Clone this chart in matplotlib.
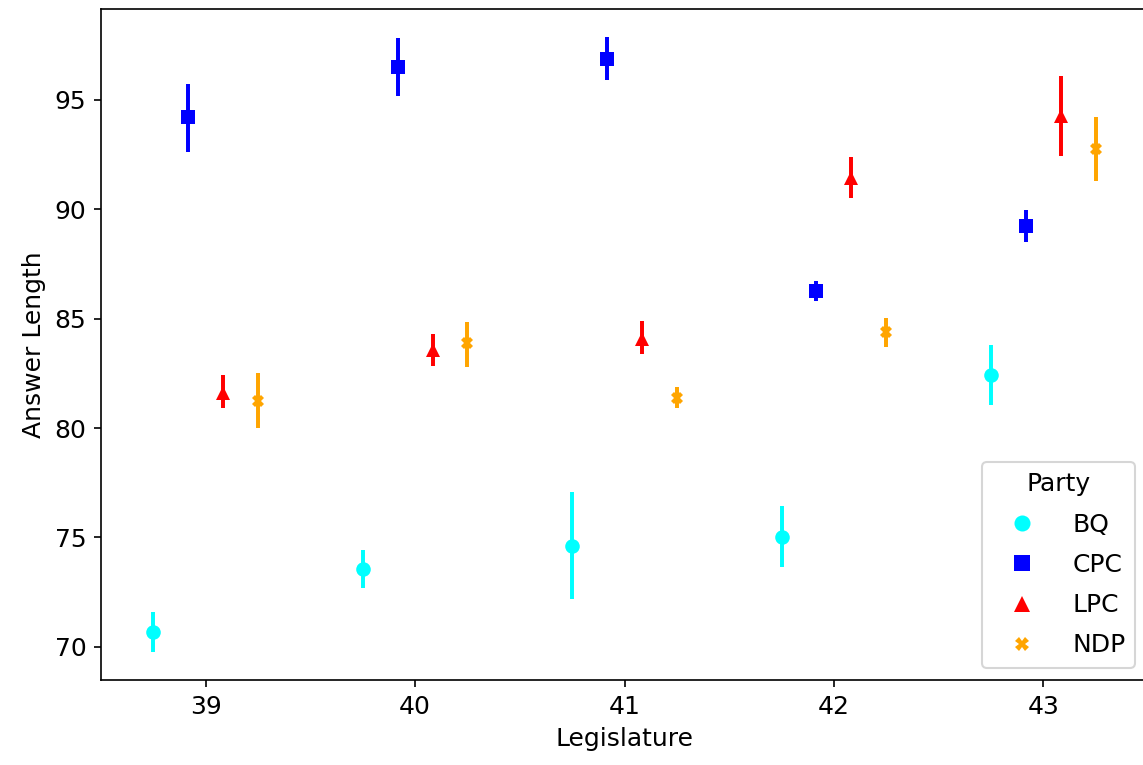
"""Answer length by legislature and party (point estimates with intervals)."""

import matplotlib

matplotlib.use("Agg")

import matplotlib.pyplot as plt
import numpy as np

plt.rcParams["font.size"] = 12

legislatures = ["39", "40", "41", "42", "43"]
parties = ["BQ", "CPC", "LPC", "NDP"]
colors = ["cyan", "blue", "red", "orange"]
markers = ["o", "s", "^", "X"]

# mean answer length, then lower / upper interval bounds
bq_mean = [70.66, 73.57, 74.60, 75.03, 82.44]
bq_lo = [69.77, 72.70, 72.19, 73.63, 81.05]
bq_hi = [71.57, 74.42, 77.09, 76.45, 83.80]

cpc_mean = [94.21, 96.49, 96.87, 86.28, 89.25]
cpc_lo = [92.63, 95.18, 95.91, 85.79, 88.49]
cpc_hi = [95.73, 97.82, 97.87, 86.71, 89.97]

lpc_mean = [81.62, 83.57, 84.08, 91.43, 94.29]
lpc_lo = [80.90, 82.83, 83.37, 90.50, 92.44]
lpc_hi = [82.42, 84.30, 84.89, 92.39, 96.09]

ndp_mean = [81.25, 83.87, 81.39, 84.38, 92.76]
ndp_lo = [79.99, 82.80, 80.93, 83.72, 91.29]
ndp_hi = [82.53, 84.86, 81.86, 85.02, 94.21]

means = [bq_mean, cpc_mean, lpc_mean, ndp_mean]
lows = [bq_lo, cpc_lo, lpc_lo, ndp_lo]
highs = [bq_hi, cpc_hi, lpc_hi, ndp_hi]

fig = plt.figure(figsize=(1143 / 150, 765 / 150), dpi=150)
ax = fig.add_axes([101 / 1143, 1 - 680 / 765, 1047 / 1143, 671 / 765])

x = np.arange(len(legislatures))
width = 0.5
offsets = np.linspace(-width / 2, width / 2, len(parties))

for i, party in enumerate(parties):
    m = np.array(means[i])
    lo = np.array(lows[i])
    hi = np.array(highs[i])
    size = 6.0 if markers[i] == "X" else 7.0
    ax.errorbar(x + offsets[i], m, yerr=[m - lo, hi - m], fmt=markers[i],
                color=colors[i], markersize=size, markeredgewidth=0,
                elinewidth=1.9, capsize=0, linestyle="none", label=party)

ax.set_xticks(x)
ax.set_xticklabels(legislatures)
ax.set_xlim(-0.5, len(legislatures) - 0.5)
ax.set_ylim(68.48, 99.16)
ax.set_yticks([70, 75, 80, 85, 90, 95])
ax.set_xlabel("Legislature")
ax.set_ylabel("Answer Length")

handles, labels = ax.get_legend_handles_labels()
handles = [h[0] for h in handles]
ax.legend(handles, labels, title="Party", loc="lower right", labelspacing=0.65,
          handlelength=2.4, markerscale=1.1)

fig.savefig("out.png", dpi=150)
plt.close(fig)
